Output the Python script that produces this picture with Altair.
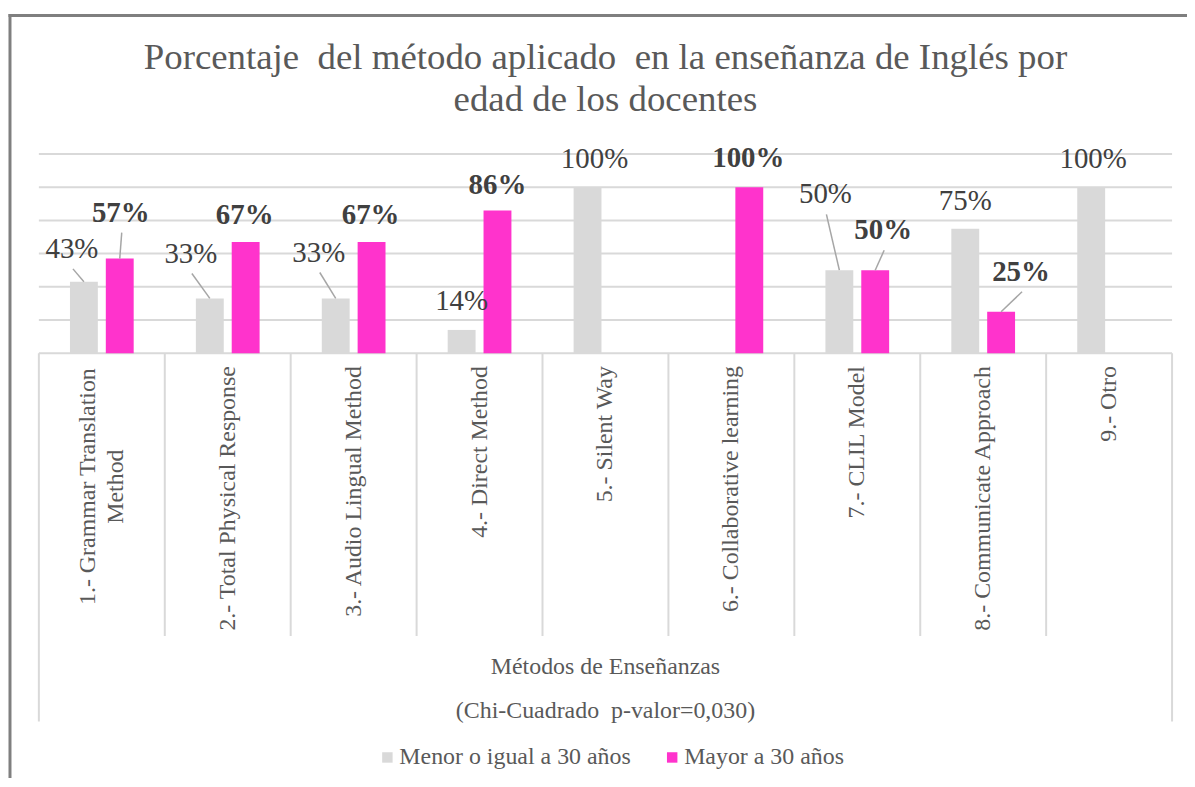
import altair as alt
import pandas as pd

# ---------------- data ----------------
categories = [
    "1.- Grammar Translation\nMethod",
    "2.- Total Physical Response",
    "3.- Audio Lingual Method",
    "4.- Direct Method",
    "5.- Silent Way",
    "6.- Collaborative learning",
    "7.- CLIL Model",
    "8.- Communicate Approach",
    "9.- Otro",
]
series = ["Menor o igual a 30 años", "Mayor a 30 años"]
menor = [43, 33, 33, 14, 100, 0, 50, 75, 100]
mayor = [57, 67, 67, 86, 0, 100, 50, 25, 0]
grid_values = [0, 20, 40, 60, 80, 100, 120]

title_lines = [
    "Porcentaje\u00a0 del método aplicado\u00a0 en la enseñanza de Inglés por",
    "edad de los docentes",
]
axis_title_lines = ["Métodos de Enseñanzas", "(Chi-Cuadrado\u00a0 p-valor=0,030)"]

# ---------------- layout / style ----------------
W, H = 1138, 200
Y_MAX = 120
BAR_W = 28
BAR_SHIFT = 18
SERIF = "Liberation Serif"
COLORS = ["#d9d9d9", "#ff33cc"]
GRID = "#d9d9d9"
TXT = "#595959"
LBL = "#404040"

# label nudges (px from bar-top centre to label centre) and leader flag
nudge = {
    0: [(-12, -33, True), (-19, -45, True), (-17, -46, True), (0, -29, False),
        (7, -28, False), None, (-14, -76, True), (0, -28, False), (2, -28, False)],
    1: [(1, -46, True), (-1, -27, False), (-1, -27, False), (0, -26, False),
        None, (-1, -29, False), (8, -40, True), (20, -40, True), None],
}

px_x = W / len(categories)
px_y = H / Y_MAX
values = [menor, mayor]

bar_rows, lab_rows, lead_rows = [], [], []
for i, cat in enumerate(categories):
    for s in range(2):
        v = values[s][i]
        cx = i + 0.5 + (-1 if s == 0 else 1) * BAR_SHIFT / px_x
        bar_rows.append({"cat": cat, "serie": series[s], "cx": cx, "v": v})
        nd = nudge[s][i]
        if v > 0 and nd is not None:
            dx, dy, lead = nd
            lx = cx + dx / px_x
            ly = v - dy / px_y
            lab_rows.append({"serie": series[s], "lx": lx, "ly": ly, "t": f"{v}%"})
            if lead:
                lead_rows.append({
                    "x1": lx + 1 / px_x, "y1": ly - 20 / px_y,
                    "x2": cx, "y2": v,
                })

bars = pd.DataFrame(bar_rows)
labs = pd.DataFrame(lab_rows)
leads = pd.DataFrame(lead_rows)
cats = pd.DataFrame({"pos": [i + 0.5 for i in range(len(categories))], "cat": categories})
bounds = pd.DataFrame({"b": list(range(len(categories) + 1))})
grid = pd.DataFrame({"g": grid_values})

xs = alt.Scale(domain=[0, len(categories)], nice=False, zero=False, padding=0)
ys = alt.Scale(domain=[0, Y_MAX], nice=False, padding=0)

grid_layer = alt.Chart(grid).mark_rule(color=GRID, strokeWidth=2).encode(
    y=alt.Y("g:Q", scale=ys, axis=None),
    x=alt.value(0),
    x2=alt.value(W),
)

bar_layer = alt.Chart(bars).mark_bar(size=BAR_W, orient="vertical").encode(
    x=alt.X("cx:Q", scale=xs, axis=None),
    y=alt.Y("v:Q", scale=ys, axis=None, stack=None),
    color=alt.Color(
        "serie:N",
        scale=alt.Scale(domain=series, range=COLORS),
        legend=alt.Legend(
            orient="none", legendX=338, legendY=594, direction="horizontal",
            title=None, symbolType="square", symbolSize=110, symbolStrokeWidth=0,
            labelFont=SERIF, labelFontSize=24, labelColor=TXT, labelOffset=0,
            columnPadding=29, padding=0, labelLimit=500,
        ),
    ),
)

lead_layer = alt.Chart(leads).mark_rule(color="#a6a6a6", strokeWidth=1.5).encode(
    x=alt.X("x1:Q", scale=xs, axis=None),
    y=alt.Y("y1:Q", scale=ys, axis=None),
    x2="x2:Q",
    y2="y2:Q",
)

lab_normal = alt.Chart(labs).transform_filter(
    alt.datum.serie == series[0]
).mark_text(font=SERIF, fontSize=29, color=LBL, baseline="middle", align="center").encode(
    x=alt.X("lx:Q", scale=xs, axis=None),
    y=alt.Y("ly:Q", scale=ys, axis=None),
    text="t:N",
)
lab_bold = alt.Chart(labs).transform_filter(
    alt.datum.serie == series[1]
).mark_text(font=SERIF, fontSize=29, fontWeight="bold", color=LBL, baseline="middle",
            align="center").encode(
    x=alt.X("lx:Q", scale=xs, axis=None),
    y=alt.Y("ly:Q", scale=ys, axis=None),
    text="t:N",
)

sep_inner = alt.Chart(bounds).transform_filter(
    (alt.datum.b > 0) & (alt.datum.b < len(categories))
).mark_rule(color=GRID, strokeWidth=2).encode(
    x=alt.X("b:Q", scale=xs, axis=None), y=alt.value(H), y2=alt.value(H + 284)
)
sep_outer = alt.Chart(bounds).transform_filter(
    (alt.datum.b == 0) | (alt.datum.b == len(categories))
).mark_rule(color=GRID, strokeWidth=2).encode(
    x=alt.X("b:Q", scale=xs, axis=None), y=alt.value(H), y2=alt.value(H + 370)
)

cat_single = alt.Chart(cats).transform_filter(
    "indexof(datum.cat, '\\n') < 0"
).mark_text(font=SERIF, fontSize=24, color=TXT, angle=270, align="right",
            baseline="middle").encode(
    x=alt.X("pos:Q", scale=xs, axis=None), y=alt.value(H + 13), text="cat:N"
)
cat_multi = alt.Chart(cats).transform_filter(
    "indexof(datum.cat, '\\n') >= 0"
).mark_text(font=SERIF, fontSize=24, color=TXT, angle=270, align="center",
            baseline="middle", lineBreak="\n", lineHeight=28, dy=-14).encode(
    x=alt.X("pos:Q", scale=xs, axis=None), y=alt.value(H + 134), text="cat:N"
)

axis_title = alt.Chart(pd.DataFrame({"t": ["\n".join(axis_title_lines)]})).mark_text(
    font=SERIF, fontSize=24, color=TXT, baseline="middle", align="center",
    lineBreak="\n", lineHeight=44,
).encode(x=alt.datum(len(categories) / 2), y=alt.value(H + 315), text="t:N")

chart_title = alt.Chart(pd.DataFrame({"t": ["\n".join(title_lines)]})).mark_text(
    font=SERIF, fontSize=37, color=TXT, baseline="alphabetic", align="center",
    lineBreak="\n", lineHeight=42,
).encode(x=alt.datum(len(categories) / 2), y=alt.value(-85), text="t:N")

one = pd.DataFrame({"k": [0]})
frame_left = alt.Chart(one).mark_rule(color="#7f7f7f", strokeWidth=3).encode(
    x=alt.value(-29), y=alt.value(-140.5), y2=alt.value(H + 440)
)
frame_top = alt.Chart(one).mark_rule(color="#7f7f7f", strokeWidth=3).encode(
    x=alt.value(-30.5), x2=alt.value(W + 20), y=alt.value(-139)
)

chart = alt.layer(
    frame_left, frame_top, grid_layer, sep_outer, sep_inner, bar_layer, lead_layer,
    lab_normal, lab_bold, cat_single, cat_multi, axis_title, chart_title,
).properties(
    width=W,
    height=H,
    padding={"left": 31, "top": 145, "right": 15, "bottom": 425},
    autosize=alt.AutoSizeParams(type="none"),
).configure_view(stroke=None)

chart.save("out.html", embed_options={"renderer": "svg", "actions": False})
